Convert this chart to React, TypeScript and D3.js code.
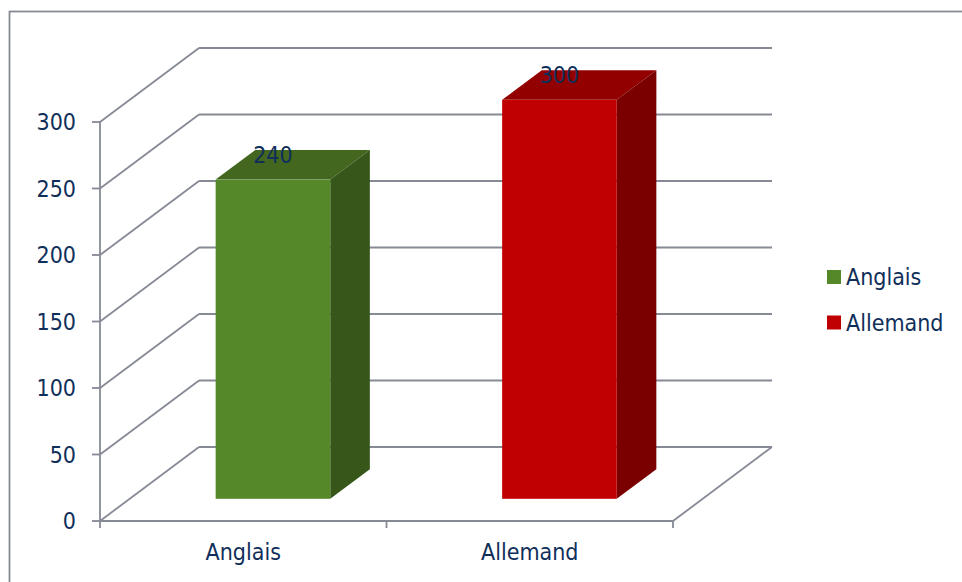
import React from "react";
import * as d3 from "d3";

const categories = ["Anglais", "Allemand"];
const values = [240, 300];
const seriesNames = ["Anglais", "Allemand"];
const yTicks = [0, 50, 100, 150, 200, 250, 300];

const frontColors = ["#558828", "#C00000"];
const topColors = ["#44671F", "#930000"];
const sideColors = ["#36561A", "#7A0000"];

const TEXT = "#0F2F5A";
const GRID = "#868A95";
const FONT = "'DejaVu Sans Condensed', 'DejaVu Sans', sans-serif";

export default function App() {
  const W = 962, H = 582;
  const x0 = 100, x1 = 673;
  const DX = 99, DY = -74;
  const y = d3.scaleLinear().domain([0, 300]).range([521, 122]);
  const x = d3.scaleBand<string>().domain(categories).range([x0, x1]).paddingInner(0.6).paddingOuter(0.3);
  const band = d3.scaleBand<string>().domain(categories).range([x0, x1]).padding(0);
  const f0 = 0.3, f1 = 0.7;
  const SW = 1.8;

  const pts = (arr: number[][]) => arr.map((p) => p.join(",")).join(" ");

  return (
    <svg width={W} height={H} style={{ position: "absolute", left: 0, top: 0, background: "#fff" }} fontFamily={FONT}>
      <rect x={9.5} y={11.5} width={1100} height={1000} fill="none" stroke={GRID} strokeWidth={1.8} />
      {yTicks.map((t) => (
        <g key={t}>
          <line x1={x0} y1={y(t)} x2={x0 + DX} y2={y(t) + DY} stroke={GRID} strokeWidth={SW} />
          <line x1={x0 + DX} y1={y(t) + DY} x2={x1 + DX} y2={y(t) + DY} stroke={GRID} strokeWidth={SW} />
          <line x1={x0 - 8} y1={y(t)} x2={x0} y2={y(t)} stroke={GRID} strokeWidth={SW} />
          <text x={76} y={y(t) + 8} textAnchor="end" fontSize={23} fill={TEXT}>{t}</text>
        </g>
      ))}
      <line x1={x1} y1={y(0)} x2={x1 + DX} y2={y(0) + DY} stroke={GRID} strokeWidth={SW} />
      <line x1={x0} y1={y(0)} x2={x1} y2={y(0)} stroke={GRID} strokeWidth={SW} />
      <line x1={x0} y1={y(0)} x2={x0} y2={y(300)} stroke={GRID} strokeWidth={SW} />
      {[x0, ...categories.map((c) => (band(c) as number) + band.bandwidth())].map((v, i) => (
        <line key={i} x1={v} y1={y(0)} x2={v} y2={y(0) + 7} stroke={GRID} strokeWidth={SW} />
      ))}
      {categories.map((c) => (
        <text key={c} x={(band(c) as number) + band.bandwidth() / 2} y={560} textAnchor="middle" fontSize={23} fill={TEXT}>{c}</text>
      ))}
      {categories.map((c, i) => {
        const bx = x(c) as number;
        const bw = x.bandwidth();
        const ax = bx + DX * f0, ay0 = y(0) + DY * f0, ay1 = y(values[i]) + DY * f0;
        const ox = DX * (f1 - f0), oy = DY * (f1 - f0);
        return (
          <g key={c}>
            <polygon points={pts([[ax, ay1], [ax + bw, ay1], [ax + bw + ox, ay1 + oy], [ax + ox, ay1 + oy]])} fill={topColors[i]} />
            <polygon points={pts([[ax + bw, ay1], [ax + bw + ox, ay1 + oy], [ax + bw + ox, ay0 + oy], [ax + bw, ay0]])} fill={sideColors[i]} />
            <rect x={ax} y={ay1} width={bw} height={ay0 - ay1} fill={frontColors[i]} />
            <text x={ax + bw / 2} y={ay1 - 17} textAnchor="middle" fontSize={23} fill={TEXT}>{values[i]}</text>
          </g>
        );
      })}
      {seriesNames.map((s, i) => (
        <g key={s}>
          <rect x={827} y={270 + i * 45.5} width={14} height={14} fill={frontColors[i]} />
          <text x={846} y={285 + i * 45.5} fontSize={23} fill={TEXT}>{s}</text>
        </g>
      ))}
    </svg>
  );
}
